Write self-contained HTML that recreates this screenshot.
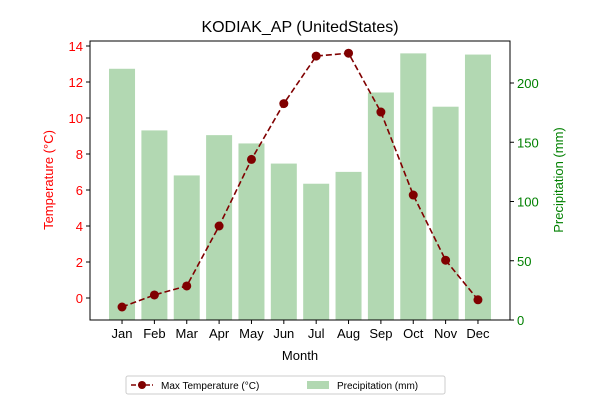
<!DOCTYPE html>
<html><head><meta charset="utf-8"><style>
body{margin:0;background:#fff;font-family:"Liberation Sans",sans-serif}
</style></head><body>
<svg id="c" width="600" height="400" xmlns="http://www.w3.org/2000/svg" font-family="Liberation Sans, sans-serif"></svg>
<script>
const months=["Jan","Feb","Mar","Apr","May","Jun","Jul","Aug","Sep","Oct","Nov","Dec"];
const temps=[-0.5,0.17,0.67,4.0,7.7,10.8,13.44,13.6,10.33,5.72,2.1,-0.1];
const precip=[212,160,122,156,149,132,115,125,192,225,180,224];
const tempTicks=[0,2,4,6,8,10,12,14];
const precipTicks=[0,50,100,150,200];
const L=90,R=510,T=41,B=320;
const x=i=>L+(i+0.99)*(R-L)/12.98;
const yT=v=>298-v*18;
const yP=v=>320-v*1.185;
const s=document.getElementById('c');const NS="http://www.w3.org/2000/svg";
function el(t,a,txt){const e=document.createElementNS(NS,t);for(const k in a)e.setAttribute(k,a[k]);if(txt!==undefined)e.textContent=txt;s.appendChild(e);return e;}
precip.forEach((v,i)=>{const r=el('rect',{x:x(i)-13,y:yP(v),width:26,height:B-yP(v),fill:'#b2d8b2'});

});
const pl=el('polyline',{points:temps.map((v,i)=>x(i)+','+yT(v)).join(' '),fill:'none',stroke:'#800000','stroke-width':1.6,'stroke-dasharray':'6,3'});


temps.forEach((v,i)=>{const c=el('circle',{cx:x(i),cy:yT(v),r:4.5,fill:'#800000'});

});
const fr=el('rect',{x:L,y:T,width:R-L,height:B-T,fill:'none',stroke:'#000','stroke-width':1});


months.forEach((m,i)=>{el('line',{x1:x(i),x2:x(i),y1:B,y2:B+4,stroke:'#000'});
const t=el('text',{x:x(i),y:B+18,'font-size':13,'text-anchor':'middle'},m);

});
tempTicks.forEach(v=>{el('line',{x1:L-4,x2:L,y1:yT(v),y2:yT(v),stroke:'#000'});
const t=el('text',{x:L-7,y:yT(v)+5,'font-size':13,'text-anchor':'end',fill:'red'},v);

});
precipTicks.forEach(v=>{el('line',{x1:R,x2:R+4,y1:yP(v),y2:yP(v),stroke:'#000'});
const t=el('text',{x:R+7,y:yP(v)+5,'font-size':13,fill:'green'},v);

});
let t;
t=el('text',{x:300,y:32,'font-size':16,'text-anchor':'middle'},'KODIAK_AP (UnitedStates)');

t=el('text',{x:300,y:360,'font-size':13,'text-anchor':'middle'},'Month');

t=el('text',{x:0,y:0,'font-size':13,'text-anchor':'middle',fill:'red',transform:'translate(53,180) rotate(-90)'},'Temperature (°C)');

t=el('text',{x:0,y:0,'font-size':13,'text-anchor':'middle',fill:'green',transform:'translate(563,180) rotate(-90)'},'Precipitation (mm)');

const lg=el('rect',{x:126,y:376,width:319,height:18,fill:'#fff',stroke:'#ccc',rx:2});

el('line',{x1:131,x2:153,y1:385,y2:385,stroke:'#800000','stroke-width':1.6,'stroke-dasharray':'5,2'});
el('circle',{cx:142,cy:385,r:4,fill:'#800000'});
t=el('text',{x:161,y:389,'font-size':10},'Max Temperature (°C)');

el('rect',{x:307,y:381,width:22,height:8,fill:'#b2d8b2'});
t=el('text',{x:337,y:389,'font-size':10},'Precipitation (mm)');

</script>
</body></html>
